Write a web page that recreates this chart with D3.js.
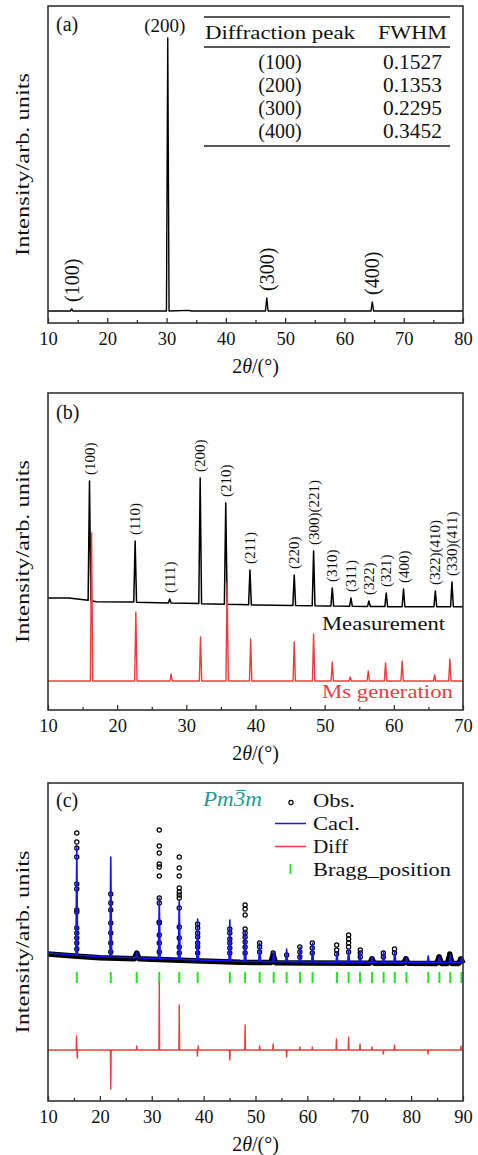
<!DOCTYPE html>
<html><head><meta charset="utf-8">
<script src="https://cdn.jsdelivr.net/npm/d3@7"></script>
<style>
html,body{margin:0;padding:0;background:#fff;}
svg{display:block;}
text{font-family:"Liberation Serif","DejaVu Serif",serif;fill:#111;}
</style></head><body>
<svg id="chart" width="478" height="1155"></svg>
<script>
// ================= DATA =================
// Panel (a)
const aTicks = [10,20,30,40,50,60,70,80];
const aMinor = [15,25,35,45,55,65,75];
const aBaseline = [[10,12],[30,12],[33.7,12.6],[34.2,12],[80,12]];
const aPeakPos = [14.0, 30.2, 46.9, 64.7];
const aPeakInt = [14, 285, 25, 21];
const aPeakLabels = ["(100)","(200)","(300)","(400)"];
const tableHeader = ["Diffraction peak","FWHM"];
const tablePeaks = ["(100)","(200)","(300)","(400)"];
const tableFWHM = ["0.1527","0.1353","0.2295","0.3452"];

// Panel (b)
const bTicks = [10,20,30,40,50,60,70];
const bMinor = [15,25,35,45,55,65];
const bMeasBase = [[10,112],[13,112],[15.5,110],[17,108.3],[22,108],[30,106.7],[40,105],[50,104],[60,103.3],[70,103.3]];
const bMeasPos = [16.0,22.6,27.6,32.0,35.7,39.2,45.6,48.4,51.1,53.8,56.4,58.9,61.4,66.0,68.4];
const bMeasInt = [229,169,111,232,207,140,135,159,122,112,109,117,121,119,128];
const bLabels = ["(100)","(110)","(111)","(200)","(210)","(211)","(220)","(300)(221)","(310)","(311)","(322)","(321)","(400)","(322)(410)","(330)(411)"];
const bMsBase = [[10,29],[70,29]];
const bMsPos = [16.3,22.7,27.8,32.05,35.9,39.3,45.6,48.4,51.1,53.7,56.3,58.8,61.2,65.9,68.1];
const bMsInt = [177,98,36,73,127,71,68,76,48,33,39,47,49,35,51];
const bSeriesNames = ["Measurement","Ms generation"];

// Panel (c)
const cTicks = [10,20,30,40,50,60,70,80,90];
const cMinor = [15,25,35,45,55,65,75,85];
const cCalcBase = [[10,148],[15,146],[20,144.3],[27,143.3],[34,142],[47,139.7],[60,139],[75,138.7],[90,138.5]];
const cObsBase  = [[10,147],[15,145],[20,143.3],[27,142.3],[34,141],[47,138.7],[60,138],[75,137.7],[90,137.5]];
const cObsBandPos = [27.1,53.4,72.45,79.0,85.4,87.45,89.6];
const cObsBandInt = [148,146,142,142,144,146,142];
const braggPos = [15.55,22.1,27.1,31.45,35.3,38.85,45.05,48.0,50.8,53.5,56.0,58.6,61.0,65.7,67.95,70.15,72.45,74.7,76.85,79.1,83.3,85.45,87.55,89.7];
const cCalcInt = [254,244,149,203,201,182,181,171,158,149,152,154,158,148,152,150,144,149,150,143,145,144,146,143];
const cObsPos = [15.55,22.1,31.45,35.3,38.85,45.05,48.0,50.8,53.4,56.0,58.55,60.95,65.65,67.95,70.2,72.45,74.65,76.8,79.0,85.4,87.45,89.6];
const cObsInt = [
  [268,259,253,244,217,212,191,189,173,168,163,158,152],
  [207,198,191,178,168,158,149],
  [271,255,248,237,234,225,203,198,179,178,166,158,149],
  [244,233,225,213,209,206,203,193,174,163,154,148],
  [177,173,168,164,158,154,148],
  [172,168,162,158,153,148],
  [196,192,186,172,168,164,159,154,148],
  [158,154,149],
  [148,144],
  [146],
  [154,149,144],
  [158,153,148],
  [156,151,147],
  [166,162,158,154,149],
  [151,148,144],
  [142],
  [148,144],
  [152,148],
  [142],
  [144],
  [147,144],
  [142]
];
const cDiffBase = [[10,51],[90,51]];
const cDiffPos = [15.5,15.65,22.1,27.1,31.45,35.3,38.8,38.95,45.05,48.0,50.8,53.4,56.0,58.55,60.95,65.6,67.95,70.15,72.45,74.65,76.8,83.25,89.6];
const cDiffInt = [65,43,12,55,118,96,45,55,41,76,55,57,44,54,54,62,64,57,54,47,56,47,55];
const braggRange = [118,129];
const cLegend = ["Obs.","Cacl.","Diff","Bragg_position"];
const spaceGroup = "Pm3m";   // the "3" carries an overbar (drawn as a rule above it)

// ================= DRAW =================
const svg = d3.select("#chart");
const L = 48, R = 463;
const FONT = '"Liberation Serif","DejaVu Serif",serif';
const COL = {black:"#000", red:"#ef3b3b", blue:"#1414ff", green:"#1fe61f", teal:"#2a9896", frame:"#333"};

function profile(baseArr, pos, ints, w) {
  const base = d3.scaleLinear().domain(baseArr.map(d=>d[0])).range(baseArr.map(d=>d[1]));
  const pts = baseArr.filter(d => !pos.some(p => Math.abs(d[0]-p) <= w)).map(d=>[d[0],d[1]]);
  pos.forEach((p,i)=>{ pts.push([p-w, base(p-w)],[p, ints[i]],[p+w, base(p+w)]); });
  pts.sort((a,b)=>a[0]-b[0]);
  return pts;
}

function axes(x, top, bottom, ticks, minor, titleY) {
  const g = svg.append("g").attr("transform",`translate(0,${bottom})`);
  g.call(d3.axisBottom(x).tickValues(ticks).tickSizeInner(-5).tickSizeOuter(0).tickPadding(9).tickFormat(d3.format("d")));
  g.select(".domain").remove();
  g.attr("font-family",FONT).attr("font-size",18.5).attr("color","#222");
  g.selectAll(".tick line").attr("stroke-width",1.2);
  const gm = svg.append("g").attr("transform",`translate(0,${bottom})`);
  gm.call(d3.axisBottom(x).tickValues(minor).tickSizeInner(-3).tickSizeOuter(0).tickFormat(""));
  gm.select(".domain").remove();
  gm.attr("color","#222");
  gm.selectAll(".tick line").attr("stroke-width",1.2);
  // x title
  const t = svg.append("text").attr("x",(L+R)/2).attr("y",titleY).attr("text-anchor","middle")
    .attr("dominant-baseline","central").attr("font-size",20);
  t.append("tspan").text("2");
  t.append("tspan").attr("font-style","italic").text("θ");
  t.append("tspan").text("/(°)");
  // y title
  svg.append("text").attr("transform",`translate(29,${(top+bottom)/2}) rotate(-90)`)
    .attr("text-anchor","middle").attr("font-size",19)
    .attr("textLength",183).attr("lengthAdjust","spacingAndGlyphs")
    .text("Intensity/arb. units");
}
function frame(top,bottom){
  svg.append("rect").attr("x",L).attr("y",top).attr("width",R-L).attr("height",bottom-top)
    .attr("fill","none").attr("stroke",COL.frame).attr("stroke-width",1.6);
}
function panelLabel(txt, y){
  svg.append("text").attr("x",56).attr("y",y).attr("font-size",20).text(txt);
}
const line = (x,y) => d3.line().x(d=>x(d[0])).y(d=>y(d[1]));

// ---------- Panel (a) ----------
{
  const top=6, bottom=323;
  const x = d3.scaleLinear().domain([10,80]).range([L,R]);
  const y = d3.scaleLinear().domain([0,317]).range([bottom,top]);
  svg.append("path").attr("d", line(x,y)(profile(aBaseline,aPeakPos,aPeakInt,0.22)))
    .attr("fill","none").attr("stroke",COL.black).attr("stroke-width",1.4).attr("stroke-linejoin","round");
  aPeakPos.forEach((p,i)=>{
    if (i===1) {
      svg.append("text").attr("x",x(p)-3).attr("y",32).attr("text-anchor","middle").attr("font-size",19).text(aPeakLabels[i]);
    } else {
      svg.append("text").attr("transform",`translate(${x(p)},${y(aPeakInt[i])-7}) rotate(-90)`)
        .attr("dominant-baseline","central").attr("font-size",20).text(aPeakLabels[i]);
    }
  });
  // table
  const tx0 = 204, tx1 = 450;
  [17,47,146].forEach(yy=>svg.append("line").attr("x1",tx0).attr("x2",tx1).attr("y1",yy).attr("y2",yy)
     .attr("stroke","#222").attr("stroke-width",1.4));
  svg.append("text").attr("x",205).attr("y",39).attr("font-size",19).attr("textLength",150)
    .attr("lengthAdjust","spacingAndGlyphs").text(tableHeader[0]);
  svg.append("text").attr("x",447).attr("y",39).attr("font-size",19).attr("text-anchor","end")
    .attr("textLength",69).attr("lengthAdjust","spacingAndGlyphs").text(tableHeader[1]);
  tablePeaks.forEach((p,i)=>{
    const yy = 69 + i*23;
    svg.append("text").attr("x",280).attr("y",yy).attr("font-size",20).attr("text-anchor","middle").text(p);
    svg.append("text").attr("x",442).attr("y",yy).attr("font-size",20).attr("text-anchor","end")
      .attr("textLength",59).attr("lengthAdjust","spacingAndGlyphs").text(tableFWHM[i]);
  });
  panelLabel("(a)", 31);
  axes(x, top, bottom, aTicks, aMinor, 366);
  frame(top,bottom);
}

// ---------- Panel (b) ----------
{
  const top=393, bottom=710;
  const x = d3.scaleLinear().domain([10,70]).range([L,R]);
  const y = d3.scaleLinear().domain([0,317]).range([bottom,top]);
  svg.append("path").attr("d", line(x,y)(profile(bMeasBase,bMeasPos,bMeasInt,0.2)))
    .attr("fill","none").attr("stroke",COL.black).attr("stroke-width",1.5).attr("stroke-linejoin","round");
  svg.append("path").attr("d", line(x,y)(profile(bMsBase,bMsPos,bMsInt,0.17)))
    .attr("fill","none").attr("stroke",COL.red).attr("stroke-width",1.4).attr("stroke-linejoin","round");
  bMeasPos.forEach((p,i)=>{
    svg.append("text").attr("transform",`translate(${x(p)},${y(bMeasInt[i])-6}) rotate(-90)`)
      .attr("dominant-baseline","central").attr("font-size",15).text(bLabels[i]);
  });
  svg.append("text").attr("x",322).attr("y",630).attr("font-size",19).attr("textLength",123)
    .attr("lengthAdjust","spacingAndGlyphs").text(bSeriesNames[0]);
  svg.append("text").attr("x",322).attr("y",698).attr("font-size",19).attr("textLength",131)
    .attr("lengthAdjust","spacingAndGlyphs").style("fill",COL.red).text(bSeriesNames[1]);
  panelLabel("(b)", 419);
  axes(x, top, bottom, bTicks, bMinor, 753);
  frame(top,bottom);
}

// ---------- Panel (c) ----------
{
  const top=783, bottom=1101;
  const x = d3.scaleLinear().domain([10,90]).range([L,R]);
  const y = d3.scaleLinear().domain([0,318]).range([bottom,top]);
  // observed background band (dense points)
  svg.append("path").attr("d", line(x,y)(profile(cObsBase,cObsBandPos,cObsBandInt,0.45)))
    .attr("fill","none").attr("stroke",COL.black).attr("stroke-width",5.5).attr("stroke-linejoin","round");
  // observed peak points
  const obsPts = [];
  cObsPos.forEach((p,i)=>cObsInt[i].forEach(v=>obsPts.push([p,v])));
  svg.append("g").selectAll("circle").data(obsPts).join("circle")
    .attr("cx",d=>x(d[0])).attr("cy",d=>y(d[1])).attr("r",2.1)
    .attr("fill","none").attr("stroke",COL.black).attr("stroke-width",1.2);
  // calc
  svg.append("path").attr("d", line(x,y)(profile(cCalcBase,braggPos,cCalcInt,0.17)))
    .attr("fill","none").attr("stroke",COL.blue).attr("stroke-width",1.6).attr("stroke-linejoin","round");
  // bragg
  svg.append("g").selectAll("line").data(braggPos).join("line")
    .attr("x1",d=>x(d)).attr("x2",d=>x(d)).attr("y1",y(braggRange[0])).attr("y2",y(braggRange[1]))
    .attr("stroke",COL.green).attr("stroke-width",2);
  // diff
  svg.append("path").attr("d", line(x,y)(profile(cDiffBase,cDiffPos,cDiffInt,0.07)))
    .attr("fill","none").attr("stroke",COL.red).attr("stroke-width",1.4).attr("stroke-linejoin","round");
  // legend
  const sg = svg.append("text").attr("x",203).attr("y",806).attr("font-size",20).attr("font-style","italic")
    .attr("textLength",59).attr("lengthAdjust","spacingAndGlyphs").style("fill",COL.teal).text(spaceGroup);
  try {
    const ext = sg.node().getExtentOfChar(2);
    svg.append("line").attr("x1",ext.x+2.5).attr("x2",ext.x+ext.width+0.5)
      .attr("y1",ext.y+2.5).attr("y2",ext.y+2.5).attr("stroke",COL.teal).attr("stroke-width",1.1);
  } catch(e) {}
  const lgY = [807,830,853,876];
  const lgW = [42,47,35,138];
  cLegend.forEach((t,i)=>{
    svg.append("text").attr("x",313).attr("y",lgY[i]).attr("font-size",19)
      .attr("textLength",lgW[i]).attr("lengthAdjust","spacingAndGlyphs").text(t);
  });
  svg.append("circle").attr("cx",291).attr("cy",802.5).attr("r",2.1).attr("fill","none").attr("stroke","#000").attr("stroke-width",1.2);
  svg.append("line").attr("x1",275).attr("x2",306).attr("y1",823.5).attr("y2",823.5).attr("stroke",COL.blue).attr("stroke-width",1.5);
  svg.append("line").attr("x1",275).attr("x2",306).attr("y1",846.5).attr("y2",846.5).attr("stroke",COL.red).attr("stroke-width",1.5);
  svg.append("line").attr("x1",290.5).attr("x2",290.5).attr("y1",864).attr("y2",874).attr("stroke",COL.green).attr("stroke-width",2);
  panelLabel("(c)", 807);
  axes(x, top, bottom, cTicks, cMinor, 1144);
  frame(top,bottom);
}
</script>
</body></html>
